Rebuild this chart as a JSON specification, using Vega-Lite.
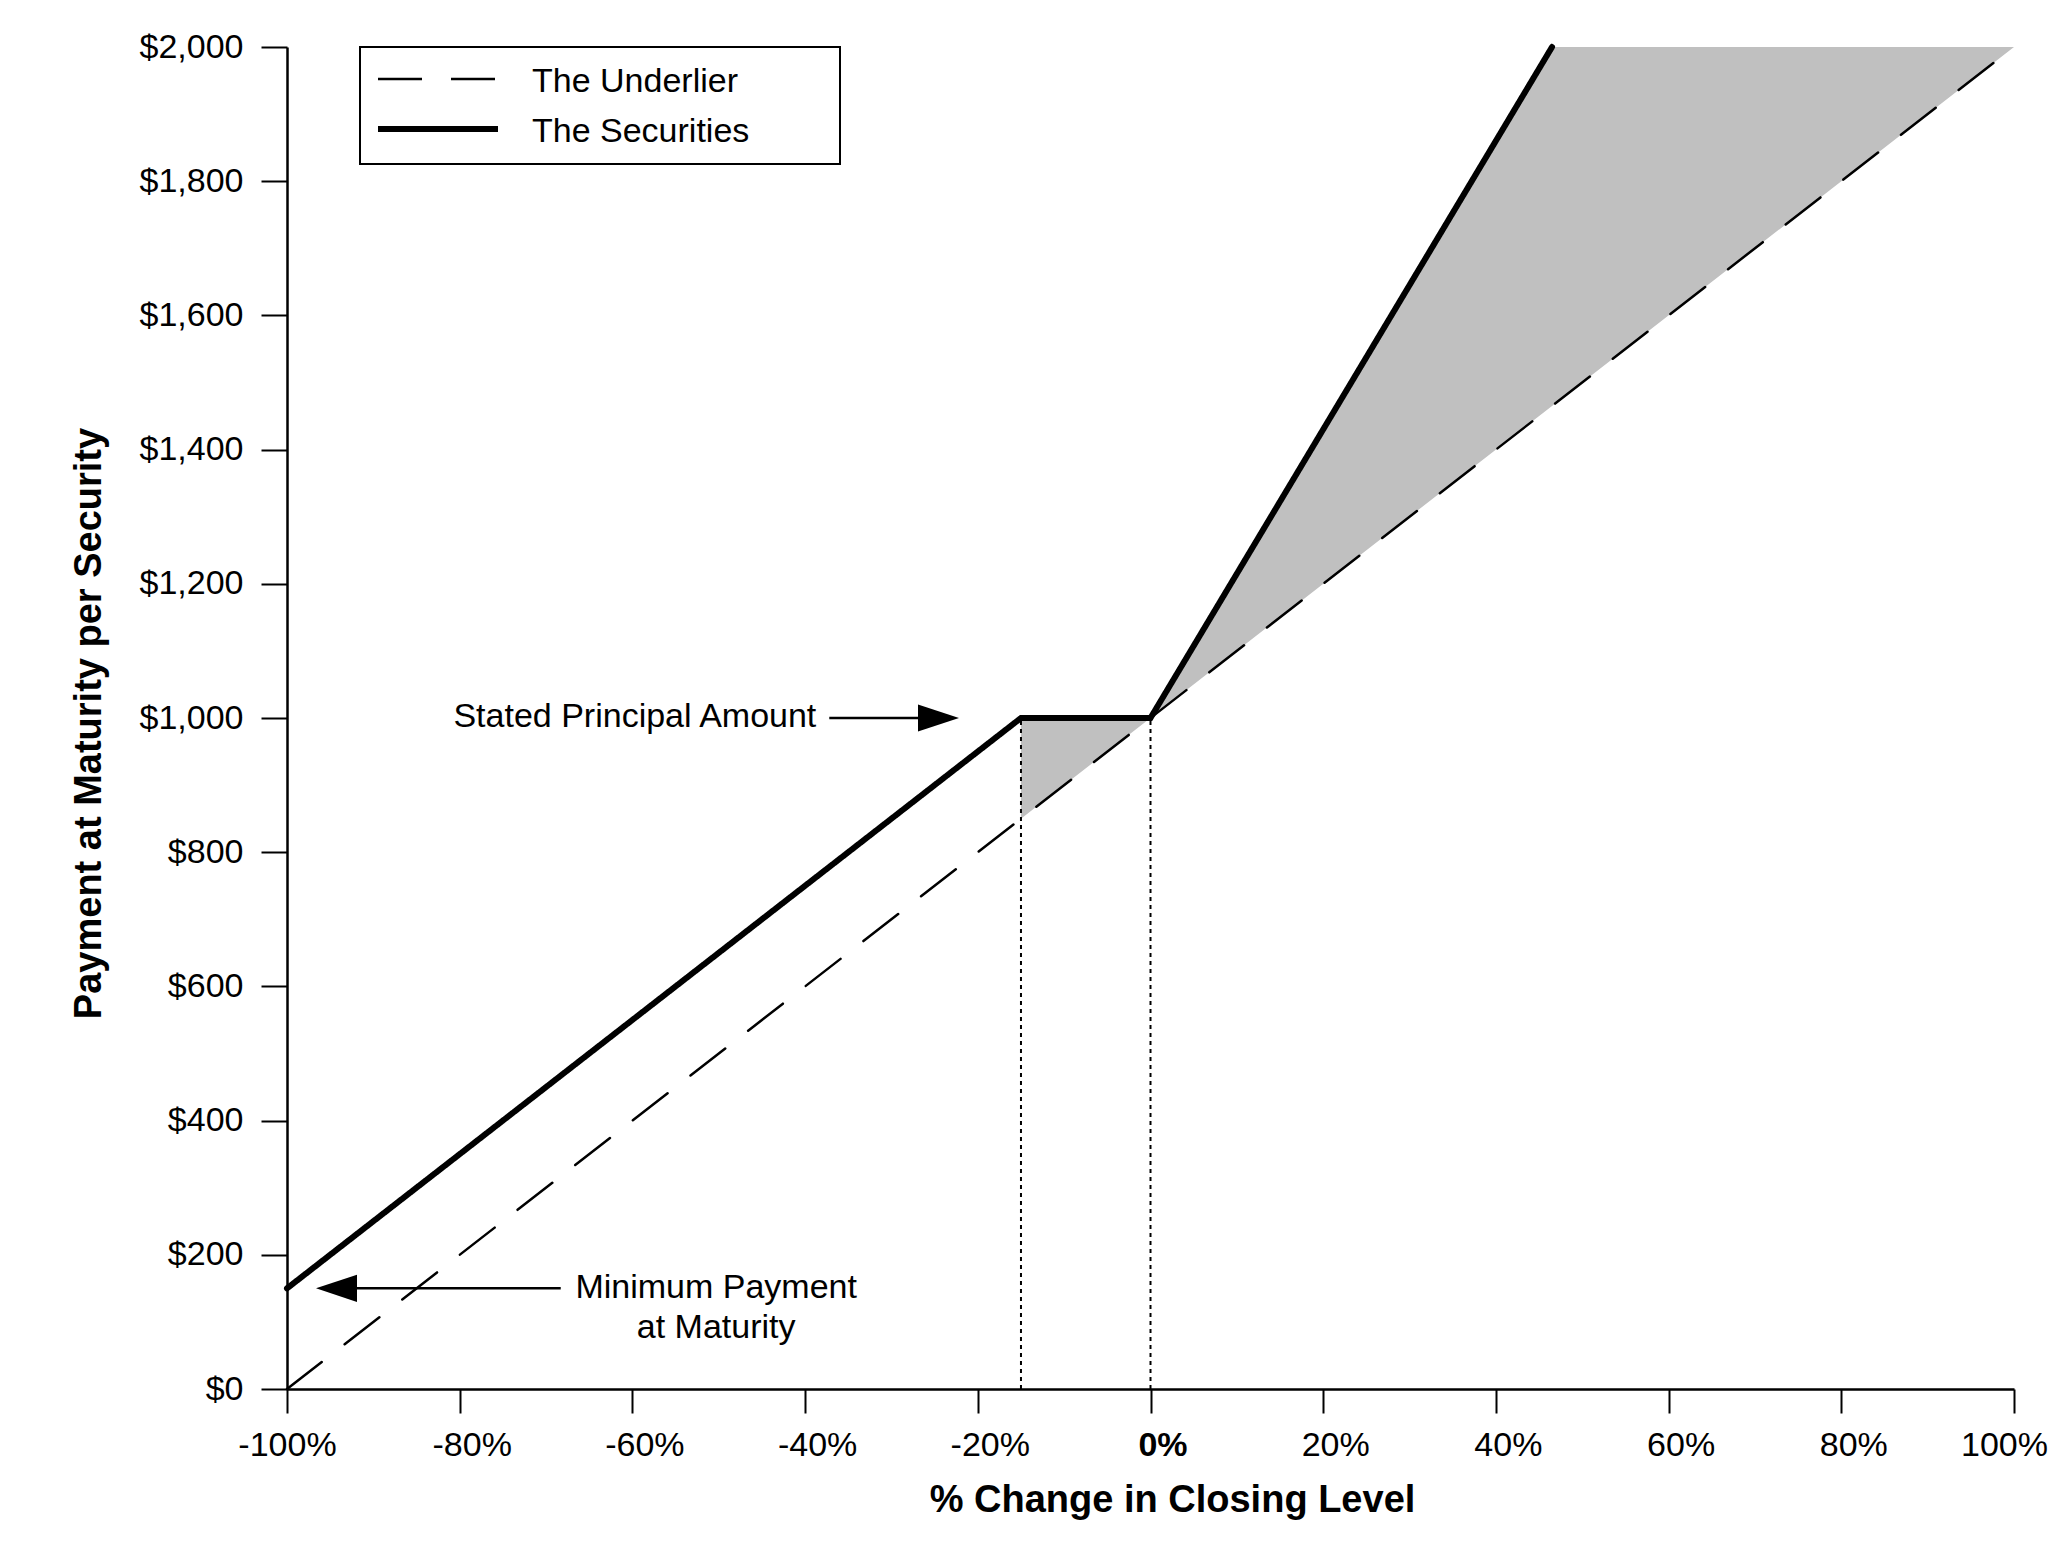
{
  "$schema": "https://vega.github.io/schema/vega-lite/v6.json",
  "width": 1727,
  "height": 1342,
  "autosize": "none",
  "padding": {"left": 287, "top": 47, "right": 35, "bottom": 158},
  "background": "white",
  "config": {
    "font": "Liberation Sans",
    "view": {"stroke": null},
    "legend": {"strokeWidth": 2}
  },
  "datasets": {
    "lines": [
      {"x": -100, "y": 0, "series": "The Underlier"},
      {"x": 100, "y": 2000, "series": "The Underlier"},
      {"x": -100, "y": 150, "series": "The Securities"},
      {"x": -15, "y": 1000, "series": "The Securities"},
      {"x": 0, "y": 1000, "series": "The Securities"},
      {"x": 46.5, "y": 2000, "series": "The Securities"}
    ],
    "band": [
      {"x": -15, "y": 850, "y2": 1000},
      {"x": 0, "y": 1000, "y2": 1000},
      {"x": 46.5, "y": 1465, "y2": 2000},
      {"x": 100, "y": 2000, "y2": 2000}
    ],
    "guides": [
      {"x": -15, "y": 0, "y2": 1000},
      {"x": 0, "y": 0, "y2": 1000}
    ],
    "arrows": [
      {"x": -37.2, "x2": -26, "y": 1000},
      {"x": -92.5, "x2": -68.3, "y": 150}
    ],
    "heads": [
      {"x": -24.55, "y": 1000, "dir": "right"},
      {"x": -94.27, "y": 150, "dir": "left"}
    ],
    "notes": [
      {"x": -38.7, "y": 987, "text": "Stated Principal Amount", "anchor": "right"},
      {"x": -50.3, "y": 136, "text": "Minimum Payment", "anchor": "center"},
      {"x": -50.3, "y": 76, "text": "at Maturity", "anchor": "center"}
    ]
  },
  "encoding": {
    "x": {
      "field": "x",
      "type": "quantitative",
      "scale": {"domain": [-100, 100], "nice": false, "zero": false},
      "axis": {
        "title": "% Change in Closing Level",
        "values": [-100, -80, -60, -40, -20, 0, 20, 40, 60, 80, 100],
        "labelExpr": "datum.value + '%'",
        "labelFontSize": 34,
        "labelColor": "black",
        "labelFontWeight": {"condition": {"test": "datum.value === 0", "value": "bold"}, "value": "normal"},
        "labelOffset": {
          "condition": [
            {"test": "datum.value === -100", "value": 0},
            {"test": "datum.value === 100", "value": -10}
          ],
          "value": 12
        },
        "labelPadding": 15,
        "labelFlush": false,
        "labelOverlap": false,
        "tickSize": 24,
        "tickWidth": 2,
        "tickColor": "black",
        "domainColor": "black",
        "domainWidth": 2.5,
        "grid": false,
        "titleFontSize": 38,
        "titleFontWeight": "bold",
        "titleColor": "black",
        "titleX": 885,
        "titleY": 122,
        "titleBaseline": "alphabetic"
      }
    },
    "y": {
      "field": "y",
      "type": "quantitative",
      "scale": {"domain": [0, 2000], "nice": false},
      "axis": {
        "title": "Payment at Maturity per Security",
        "values": [0, 200, 400, 600, 800, 1000, 1200, 1400, 1600, 1800, 2000],
        "labelExpr": "'$' + format(datum.value, ',')",
        "labelFontSize": 34,
        "labelColor": "black",
        "labelPadding": 18,
        "labelOverlap": false,
        "tickSize": 26,
        "tickWidth": 2,
        "tickColor": "black",
        "domainColor": "black",
        "domainWidth": 2.5,
        "grid": false,
        "titleFontSize": 38,
        "titleFontWeight": "bold",
        "titleColor": "black",
        "titleAngle": 270,
        "titleX": -187,
        "titleY": 676,
        "titleBaseline": "alphabetic"
      }
    }
  },
  "layer": [
    {
      "data": {"name": "band"},
      "mark": {"type": "area", "color": "#c0c0c0", "opacity": 1},
      "encoding": {"y2": {"field": "y2"}}
    },
    {
      "data": {"name": "guides"},
      "mark": {"type": "rule", "color": "black", "strokeWidth": 2, "strokeDash": [4, 4]},
      "encoding": {"y2": {"field": "y2"}}
    },
    {
      "data": {"name": "lines"},
      "mark": {"type": "line", "color": "black", "strokeCap": "round", "clip": false},
      "encoding": {
        "strokeDash": {
          "field": "series",
          "type": "nominal",
          "scale": {"domain": ["The Underlier", "The Securities"], "range": [[44, 29], [1, 0]]},
          "legend": {
            "title": null,
            "orient": "none",
            "legendX": 73,
            "legendY": 0,
            "strokeColor": "black",
            "fillColor": "white",
            "padding": 15,
            "symbolType": "stroke",
            "symbolSize": 14400,
            "symbolStrokeColor": "black",
            "labelOffset": 31,
            "labelFontSize": 34,
            "labelColor": "black",
            "labelLimit": 600,
            "clipHeight": 34,
            "rowPadding": 13,
            "labelExpr": "datum.label + '        \u200b'",
            "encode": {"labels": {"update": {"dy": {"value": 3}}}}
          }
        },
        "strokeWidth": {
          "field": "series",
          "type": "nominal",
          "scale": {"type": "ordinal", "domain": ["The Underlier", "The Securities"], "range": [2.5, 6]},
          "legend": {
            "title": null,
            "orient": "none",
            "legendX": 73,
            "legendY": 0,
            "strokeColor": "black",
            "fillColor": "white",
            "padding": 15,
            "symbolType": "stroke",
            "symbolSize": 14400,
            "symbolStrokeColor": "black",
            "labelOffset": 31,
            "labelFontSize": 34,
            "labelColor": "black",
            "labelLimit": 600,
            "clipHeight": 34,
            "rowPadding": 13,
            "labelExpr": "datum.label + '        \u200b'",
            "encode": {"labels": {"update": {"dy": {"value": 3}}}}
          }
        }
      }
    },
    {
      "data": {"name": "arrows"},
      "mark": {"type": "rule", "color": "black", "strokeWidth": 2.5},
      "encoding": {"x2": {"field": "x2"}}
    },
    {
      "data": {"name": "heads"},
      "mark": {"type": "point", "filled": true, "color": "black", "opacity": 1, "size": 1681, "strokeWidth": 0},
      "encoding": {
        "shape": {
          "field": "dir",
          "type": "nominal",
          "scale": {"domain": ["right", "left"], "range": ["M-1,-0.66L1,0L-1,0.66Z", "M1,-0.66L-1,0L1,0.66Z"]},
          "legend": null
        }
      }
    },
    {
      "data": {"name": "notes"},
      "transform": [{"filter": "datum.anchor === 'right'"}],
      "mark": {"type": "text", "align": "right", "baseline": "alphabetic", "fontSize": 34, "color": "black"},
      "encoding": {"text": {"field": "text"}}
    },
    {
      "data": {"name": "notes"},
      "transform": [{"filter": "datum.anchor === 'center'"}],
      "mark": {"type": "text", "align": "center", "baseline": "alphabetic", "fontSize": 34, "color": "black"},
      "encoding": {"text": {"field": "text"}}
    }
  ]
}
